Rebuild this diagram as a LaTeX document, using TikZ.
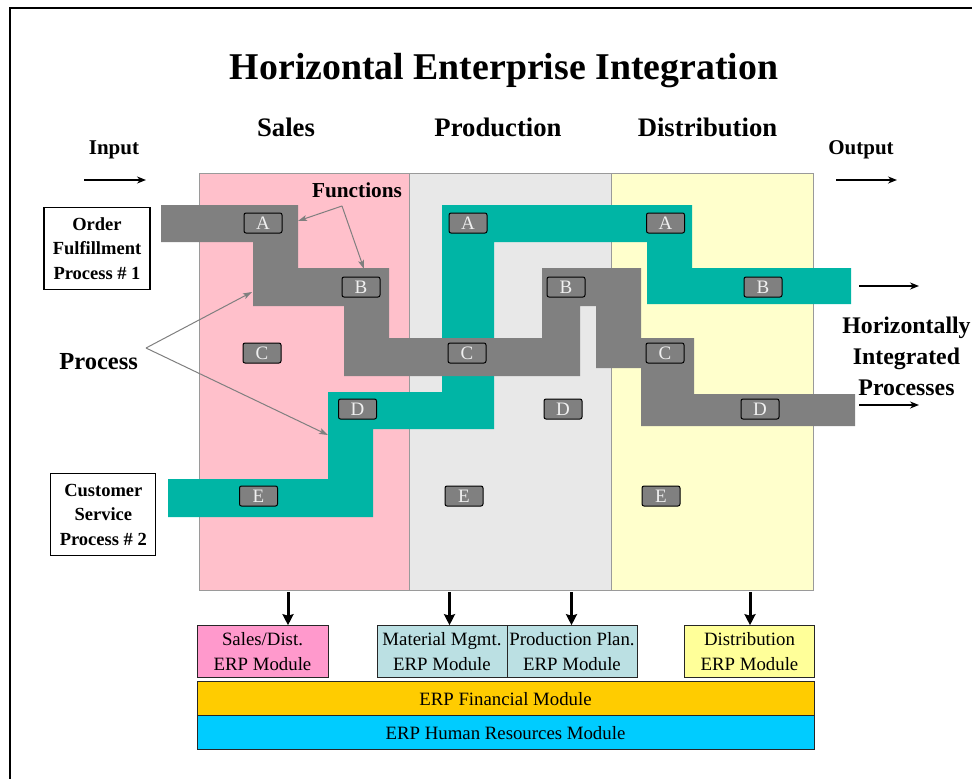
\documentclass[tikz,border=0pt]{standalone}
\usepackage{fontspec}
\setmainfont{Liberation Serif}
\usetikzlibrary{arrows.meta}
\definecolor{salespink}{HTML}{FFC0CB}
\definecolor{prodgray}{HTML}{E8E8E8}
\definecolor{distyellow}{HTML}{FFFFCC}
\definecolor{flowgray}{HTML}{808080}
\definecolor{flowteal}{HTML}{00B5A5}
\definecolor{modpink}{HTML}{FF99CC}
\definecolor{modblue}{HTML}{BBE0E3}
\definecolor{modyellow}{HTML}{FFFF99}
\definecolor{modgold}{HTML}{FFCC00}
\definecolor{modcyan}{HTML}{00CCFF}
\definecolor{coledge}{HTML}{9A9A9A}
\definecolor{annot}{HTML}{7F7F7F}
\begin{document}
\begin{tikzpicture}[x=1pt,y=-1pt,
  column/.style={draw=coledge,line width=1pt,anchor=north west,inner sep=0pt,minimum height=417pt},
  header/.style={font=\fontsize{26.7}{28}\selectfont\bfseries,anchor=base},
  sidelabel/.style={font=\fontsize{21}{22}\selectfont\bfseries,anchor=base},
  fbox/.style={draw=black,line width=1pt,fill=flowgray,rounded corners=2pt,
    minimum width=38pt,minimum height=20pt,inner sep=0pt,text=white!94!black,
    font=\fontsize{19}{19}\selectfont},
  pbox/.style={draw=black,line width=1.2pt,align=center,inner sep=0pt,
    font=\fontsize{18.5}{24.5}\selectfont\bfseries},
  module/.style={draw=black!85,line width=1pt,align=center,inner sep=0pt,
    font=\fontsize{18.8}{24.3}\selectfont},
  flow/.style={line width=1.8pt,-{Stealth[length=9pt,width=7pt]}},
  down/.style={line width=3pt,-{Stealth[length=11pt,width=11pt,inset=1.5pt]}},
  ann/.style={draw=annot,line width=1pt,-{Stealth[length=9pt,width=6pt,inset=2pt]}}]

\useasboundingbox (0,0) rectangle (972,779);

% page frame
\draw[line width=2pt] (10,779) -- (10,8) -- (972,8);

% title and column headers
\node[font=\fontsize{37.8}{40}\selectfont\bfseries,anchor=base] (title) at (504,79) {Horizontal Enterprise Integration};
\node[header] (hsales) at (286,136) {Sales};
\node[header] (hprod) at (498,136) {Production};
\node[header] (hdist) at (707.5,136) {Distribution};
\node[sidelabel] (input) at (114,154) {Input};
\node[sidelabel] (output) at (861,154) {Output};

% business-area columns
\node[column,fill=salespink,minimum width=210pt] (sales) at (199,173) {};
\node[column,fill=prodgray,minimum width=202pt] (production) at (409,173) {};
\node[column,fill=distyellow,minimum width=202pt] (distribution) at (611,173) {};

% process 2 (customer service)
\fill[flowteal] (442,205) -- (692,205) -- (692,268) -- (851,268) -- (851,304)
  -- (647,304) -- (647,242) -- (494,242) -- (494,429) -- (373,429) -- (373,517)
  -- (168,517) -- (168,479) -- (328,479) -- (328,392) -- (442,392) -- cycle;

% process 1 (order fulfillment)
\fill[flowgray] (161,205) -- (298,205) -- (298,268) -- (389,268) -- (389,338)
  -- (542,338) -- (542,268) -- (641,268) -- (641,338) -- (694,338) -- (694,394)
  -- (855,394) -- (855,426) -- (641,426) -- (641,368) -- (596,368) -- (596,306)
  -- (580,306) -- (580,376) -- (344,376) -- (344,306) -- (253,306) -- (253,242)
  -- (161,242) -- cycle;

% functions in each area
\node[fbox] (sA) at (263,223) {A};
\node[fbox] (sB) at (361,287) {B};
\node[fbox] (sC) at (262,353) {C};
\node[fbox] (sD) at (357.5,409) {D};
\node[fbox] (sE) at (258.5,496) {E};
\node[fbox] (pA) at (468,223) {A};
\node[fbox] (pB) at (566,287) {B};
\node[fbox] (pC) at (467,353) {C};
\node[fbox] (pD) at (563,409) {D};
\node[fbox] (pE) at (464,496) {E};
\node[fbox] (dA) at (665.5,223) {A};
\node[fbox] (dB) at (763,287) {B};
\node[fbox] (dC) at (665,353) {C};
\node[fbox] (dD) at (760,409) {D};
\node[fbox] (dE) at (661,496) {E};

% process name boxes
\node[pbox,minimum width=106pt,minimum height=82pt] (order) at (97,248.3) {Order\\Fulfillment\\Process \# 1};
\node[pbox,minimum width=105pt,minimum height=82pt] (customer) at (103.3,514.5) {Customer\\Service\\Process \# 2};

% input / output arrows
\coordinate (inL) at (84,180);
\coordinate (inR) at (146,180);
\draw[flow] (inL) -- (inR);
\coordinate (outL) at (836,180);
\coordinate (outR) at (897,180);
\draw[flow] (outL) -- (outR);

% annotations
\node[font=\fontsize{21.3}{22}\selectfont\bfseries,anchor=base] (functions) at (357,197) {Functions};
\coordinate (fsrc) at (342,206);
\coordinate (ftipA) at (298,221);
\coordinate (ftipB) at (364,269);
\draw[ann] (fsrc) -- (ftipA);
\draw[ann] (fsrc) -- (ftipB);

\node[font=\fontsize{24.5}{26}\selectfont\bfseries,anchor=base] (process) at (98.6,369) {Process};
\coordinate (psrc) at (146,348);
\coordinate (ptip1) at (252,292);
\coordinate (ptip2) at (328,435);
\draw[ann] (psrc) -- (ptip1);
\draw[ann] (psrc) -- (ptip2);

% integrated processes leaving the enterprise
\coordinate (r1L) at (859,286);
\coordinate (r1R) at (919,286);
\draw[flow] (r1L) -- (r1R);
\coordinate (r2L) at (859,405);
\coordinate (r2R) at (919,405);
\draw[flow] (r2L) -- (r2R);
\node[align=center,font=\fontsize{23.8}{31}\selectfont\bfseries] (hip) at (906.5,356) {Horizontally\\Integrated\\Processes};

% ERP modules
\node[module,fill=modpink,minimum width=131pt,minimum height=52pt] (msales) at (262.5,651.7) {Sales/Dist.\\ERP Module};
\node[module,fill=modblue,minimum width=130pt,minimum height=52pt] (mmat) at (442,651.7) {Material Mgmt.\\ERP Module};
\node[module,fill=modblue,minimum width=130pt,minimum height=52pt] (mplan) at (572,651.7) {Production Plan.\\ERP Module};
\node[module,fill=modyellow,minimum width=130pt,minimum height=52pt] (mdist) at (749.5,651.7) {Distribution\\ERP Module};
\node[module,fill=modgold,minimum width=617pt,minimum height=34pt] (mfin) at (505.5,698.7) {ERP Financial Module};
\node[module,fill=modcyan,minimum width=617pt,minimum height=34pt] (mhr) at (505.5,732.9) {ERP Human Resources Module};

% area to module links
\coordinate (d1) at (288,592);
\coordinate (d2) at (449.5,592);
\coordinate (d3) at (571.5,592);
\coordinate (d4) at (750,592);
\draw[down] (d1) -- (d1 |- msales.north);
\draw[down] (d2) -- (d2 |- mmat.north);
\draw[down] (d3) -- (d3 |- mplan.north);
\draw[down] (d4) -- (d4 |- mdist.north);

\end{tikzpicture}
\end{document}
